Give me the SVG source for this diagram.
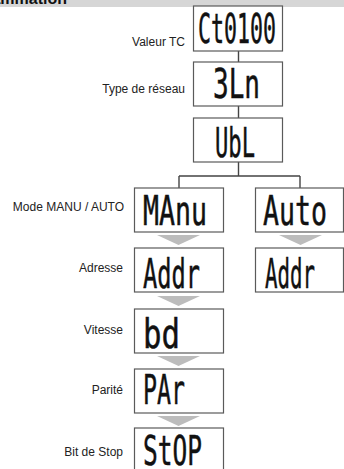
<svg xmlns="http://www.w3.org/2000/svg" width="344" height="469" viewBox="0 0 344 469">
<style>
.box{fill:#fff;stroke:#5a5a5a;stroke-width:1.2}
.lbl{font-family:"Liberation Sans",Arial,sans-serif;font-size:12px;fill:#222;text-anchor:end}
.seg{font-family:"DejaVu Sans Mono","Liberation Mono",monospace;font-size:40px;fill:#111;stroke:#111;stroke-width:0.5}
.con{stroke:#444;stroke-width:1.4;fill:none}
.tri{fill:#bcbcbc}
</style>
<rect x="0" y="0" width="344" height="7" fill="#d6d6d6"/>
<text x="67" y="4" font-family="Liberation Sans,Arial,sans-serif" font-weight="bold" font-size="16" text-anchor="end" fill="#111">Programmation</text>
<g id="connectors">
<path class="con" d="M238.5 51V62M238.5 106V118M238.5 162V176M179 176H300M179 176V188M300 176V188"/>
<polygon class="tri" points="157,235 200,235 178.5,245"/>
<polygon class="tri" points="279,235 322,235 300.5,245"/>
<polygon class="tri" points="157,296 200,296 178.5,306"/>
<polygon class="tri" points="157,356 200,356 178.5,366"/>
<polygon class="tri" points="157,416 200,416 178.5,426"/>
</g>
<g id="n-ct">
<rect class="box" x="193.5" y="6" width="89" height="45"/>
<text class="seg" x="198" y="43" textLength="78" lengthAdjust="spacingAndGlyphs">Ct0100</text>
<text class="lbl" x="185" y="46">Valeur TC</text>
</g>
<g id="n-3ln">
<rect class="box" x="193.5" y="62" width="89" height="44"/>
<text class="seg" x="213" y="98" textLength="47" lengthAdjust="spacingAndGlyphs">3Ln</text>
<text class="lbl" x="185" y="93">Type de réseau</text>
</g>
<g id="n-ubl">
<rect class="box" x="193.5" y="118" width="89" height="44"/>
<text class="seg" x="215" y="157" textLength="40" lengthAdjust="spacingAndGlyphs">UbL</text>
</g>
<g id="n-manu">
<rect class="box" x="134.5" y="188" width="89" height="44"/>
<text class="seg" x="143" y="225" textLength="64" lengthAdjust="spacingAndGlyphs">MAnu</text>
<text class="lbl" x="124" y="211">Mode MANU / AUTO</text>
</g>
<g id="n-auto">
<rect class="box" x="255.5" y="188" width="88" height="44"/>
<text class="seg" x="263" y="225" textLength="64" lengthAdjust="spacingAndGlyphs">Auto</text>
</g>
<g id="n-addr">
<rect class="box" x="134.5" y="248" width="89" height="44"/>
<text class="seg" x="143" y="288" textLength="57" lengthAdjust="spacingAndGlyphs">Addr</text>
<text class="lbl" x="123" y="272">Adresse</text>
</g>
<g id="n-addr2">
<rect class="box" x="255.5" y="248" width="88" height="44"/>
<text class="seg" x="265" y="288" textLength="50" lengthAdjust="spacingAndGlyphs">Addr</text>
</g>
<g id="n-bd">
<rect class="box" x="134.5" y="309" width="89" height="44"/>
<text class="seg" x="143" y="348" textLength="37" lengthAdjust="spacingAndGlyphs">bd</text>
<text class="lbl" x="123" y="334">Vitesse</text>
</g>
<g id="n-par">
<rect class="box" x="134.5" y="369" width="89" height="44"/>
<text class="seg" x="143" y="404" textLength="42" lengthAdjust="spacingAndGlyphs">PAr</text>
<text class="lbl" x="123" y="394">Parité</text>
</g>
<g id="n-stop">
<rect class="box" x="134.5" y="428" width="89" height="45"/>
<text class="seg" x="143" y="465" textLength="59" lengthAdjust="spacingAndGlyphs">StOP</text>
<text class="lbl" x="123" y="456">Bit de Stop</text>
</g>
</svg>
